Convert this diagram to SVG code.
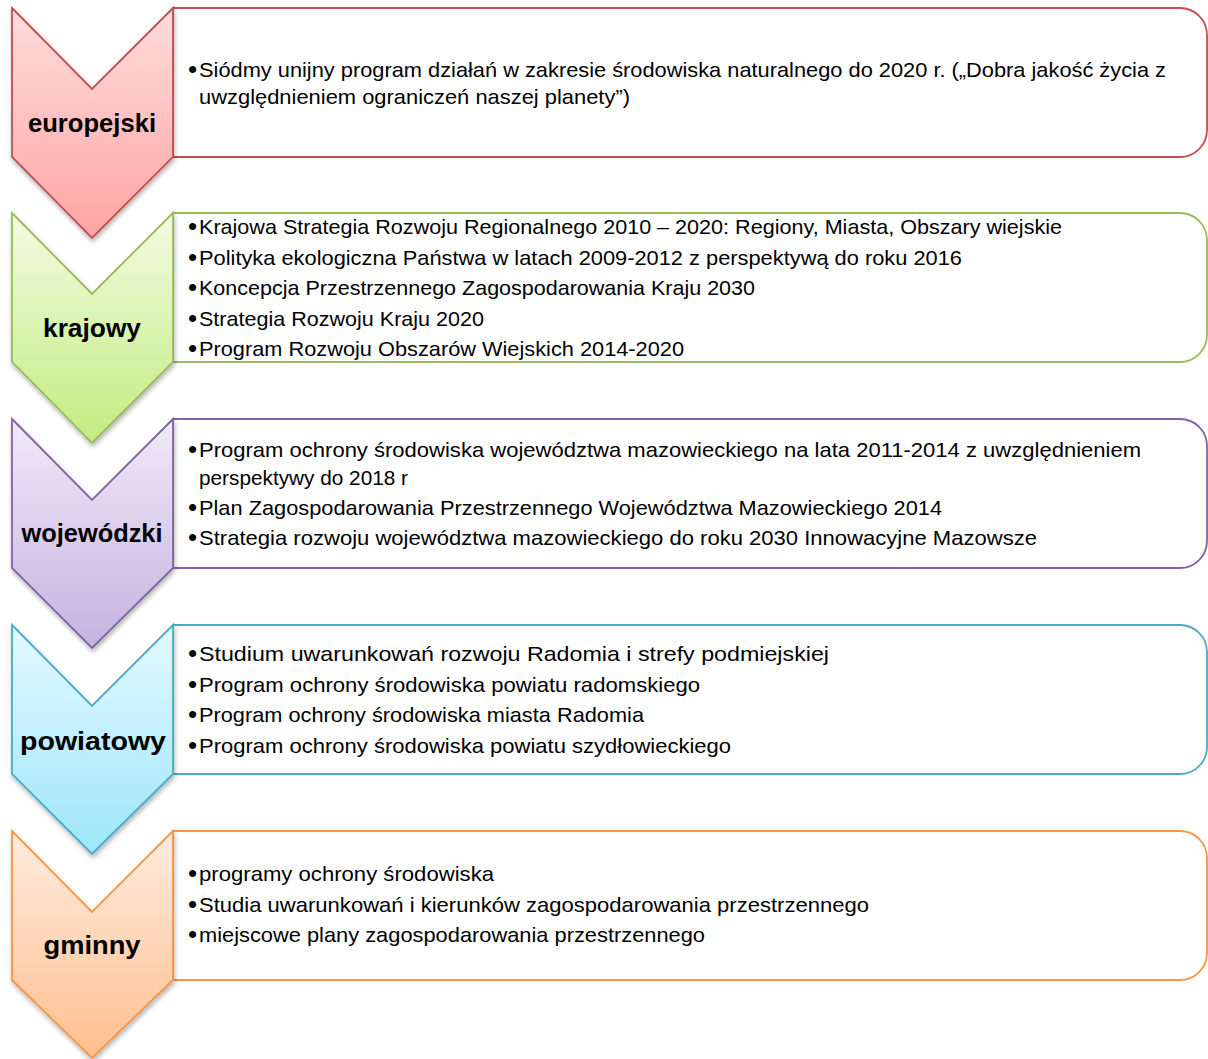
<svg xmlns="http://www.w3.org/2000/svg" width="1208" height="1059" viewBox="0 0 1208 1059">
<style>
.box{fill:#fff;stroke-width:1.8}
.chev{stroke-width:1.8;filter:url(#sh)}
.lbl{font-family:"Liberation Sans",Arial,sans-serif;font-weight:bold;font-size:25px;fill:#000;text-anchor:middle}
.t{font-family:"Liberation Sans",Arial,sans-serif;font-size:21px;fill:#000}
.b{font-family:"Liberation Sans",Arial,sans-serif;font-size:26px;fill:#000}
</style>
<defs>
<filter id="sh" x="-20%" y="-20%" width="150%" height="150%">
<feGaussianBlur in="SourceAlpha" stdDeviation="2.5"/>
<feOffset dx="1" dy="3" result="b"/>
<feComponentTransfer><feFuncA type="linear" slope="0.3"/></feComponentTransfer>
<feMerge><feMergeNode/><feMergeNode in="SourceGraphic"/></feMerge>
</filter>
<linearGradient id="gr" x1="0" y1="0" x2="0" y2="1"><stop offset="0" stop-color="#ffdcdc"/><stop offset="1" stop-color="#ffa4a4"/></linearGradient>
<linearGradient id="gg" x1="0" y1="0" x2="0" y2="1"><stop offset="0" stop-color="#f2fbe2"/><stop offset="1" stop-color="#c2ec80"/></linearGradient>
<linearGradient id="gp" x1="0" y1="0" x2="0" y2="1"><stop offset="0" stop-color="#f0eaf7"/><stop offset="1" stop-color="#c6b2e0"/></linearGradient>
<linearGradient id="gb" x1="0" y1="0" x2="0" y2="1"><stop offset="0" stop-color="#e4f9ff"/><stop offset="1" stop-color="#9de6fa"/></linearGradient>
<linearGradient id="go" x1="0" y1="0" x2="0" y2="1"><stop offset="0" stop-color="#ffecdf"/><stop offset="1" stop-color="#ffbf8e"/></linearGradient>
</defs>

<g id="level-europejski">
<path class="box" stroke="#c0504d" d="M173,8 H1180 A27,27 0 0 1 1207,35 V130 A27,27 0 0 1 1180,157 H173 Z"/>
<path class="chev" fill="url(#gr)" stroke="#c0504d" d="M12,8 L92,89 L173,8 L173,157 L92,238 L12,157 Z"/>
<text class="lbl" x="92" y="132" textLength="128" lengthAdjust="spacingAndGlyphs">europejski</text>
<text class="b" x="188" y="78">•</text>
<text class="t" x="199" y="77" textLength="967" lengthAdjust="spacingAndGlyphs">Siódmy unijny program działań w zakresie środowiska naturalnego do 2020 r. („Dobra jakość życia z</text>
<text class="t" x="199" y="104" textLength="431" lengthAdjust="spacingAndGlyphs">uwzględnieniem ograniczeń naszej planety”)</text>
</g>

<g id="level-krajowy">
<path class="box" stroke="#9bbb59" d="M173,213 H1180 A27,27 0 0 1 1207,240 V335 A27,27 0 0 1 1180,362 H173 Z"/>
<path class="chev" fill="url(#gg)" stroke="#9bbb59" d="M12,213 L92,294 L173,213 L173,362 L92,443 L12,362 Z"/>
<text class="lbl" x="92" y="337" textLength="98" lengthAdjust="spacingAndGlyphs">krajowy</text>
<text class="b" x="188" y="235">•</text>
<text class="t" x="199" y="234" textLength="863" lengthAdjust="spacingAndGlyphs">Krajowa Strategia Rozwoju Regionalnego 2010 – 2020: Regiony, Miasta, Obszary wiejskie</text>
<text class="b" x="188" y="266">•</text>
<text class="t" x="199" y="265" textLength="763" lengthAdjust="spacingAndGlyphs">Polityka ekologiczna Państwa w latach 2009-2012 z perspektywą do roku 2016</text>
<text class="b" x="188" y="296">•</text>
<text class="t" x="199" y="295" textLength="556" lengthAdjust="spacingAndGlyphs">Koncepcja Przestrzennego Zagospodarowania Kraju 2030</text>
<text class="b" x="188" y="327">•</text>
<text class="t" x="199" y="326" textLength="285" lengthAdjust="spacingAndGlyphs">Strategia Rozwoju Kraju 2020</text>
<text class="b" x="188" y="357">•</text>
<text class="t" x="199" y="356" textLength="485" lengthAdjust="spacingAndGlyphs">Program Rozwoju Obszarów Wiejskich 2014-2020</text>
</g>

<g id="level-wojewodzki">
<path class="box" stroke="#8064a2" d="M173,419 H1180 A27,27 0 0 1 1207,446 V541 A27,27 0 0 1 1180,568 H173 Z"/>
<path class="chev" fill="url(#gp)" stroke="#8064a2" d="M12,419 L92,500 L173,419 L173,568 L92,648 L12,568 Z"/>
<text class="lbl" x="92" y="542" textLength="141" lengthAdjust="spacingAndGlyphs">wojewódzki</text>
<text class="b" x="188" y="458">•</text>
<text class="t" x="199" y="457" textLength="942" lengthAdjust="spacingAndGlyphs">Program ochrony środowiska województwa mazowieckiego na lata 2011-2014 z uwzględnieniem</text>
<text class="t" x="199" y="485" textLength="209" lengthAdjust="spacingAndGlyphs">perspektywy do 2018 r</text>
<text class="b" x="188" y="516">•</text>
<text class="t" x="199" y="515" textLength="743" lengthAdjust="spacingAndGlyphs">Plan Zagospodarowania Przestrzennego Województwa Mazowieckiego 2014</text>
<text class="b" x="188" y="546">•</text>
<text class="t" x="199" y="545" textLength="838" lengthAdjust="spacingAndGlyphs">Strategia rozwoju województwa mazowieckiego do roku 2030 Innowacyjne Mazowsze</text>
</g>

<g id="level-powiatowy">
<path class="box" stroke="#4bacc6" d="M173,625 H1180 A27,27 0 0 1 1207,652 V747 A27,27 0 0 1 1180,774 H173 Z"/>
<path class="chev" fill="url(#gb)" stroke="#4bacc6" d="M12,625 L92,706 L173,625 L173,774 L92,854 L12,774 Z"/>
<text class="lbl" x="93" y="750" textLength="146" lengthAdjust="spacingAndGlyphs">powiatowy</text>
<text class="b" x="188" y="662">•</text>
<text class="t" x="199" y="661" textLength="630" lengthAdjust="spacingAndGlyphs">Studium uwarunkowań rozwoju Radomia i strefy podmiejskiej</text>
<text class="b" x="188" y="693">•</text>
<text class="t" x="199" y="692" textLength="501" lengthAdjust="spacingAndGlyphs">Program ochrony środowiska powiatu radomskiego</text>
<text class="b" x="188" y="723">•</text>
<text class="t" x="199" y="722" textLength="445" lengthAdjust="spacingAndGlyphs">Program ochrony środowiska miasta Radomia</text>
<text class="b" x="188" y="754">•</text>
<text class="t" x="199" y="753" textLength="532" lengthAdjust="spacingAndGlyphs">Program ochrony środowiska powiatu szydłowieckiego</text>
</g>

<g id="level-gminny">
<path class="box" stroke="#f79646" d="M173,831 H1180 A27,27 0 0 1 1207,858 V953 A27,27 0 0 1 1180,980 H173 Z"/>
<path class="chev" fill="url(#go)" stroke="#f79646" d="M12,831 L92,912 L173,831 L173,980 L92,1058 L12,980 Z"/>
<text class="lbl" x="92" y="954" textLength="97" lengthAdjust="spacingAndGlyphs">gminny</text>
<text class="b" x="188" y="882">•</text>
<text class="t" x="199" y="881" textLength="295" lengthAdjust="spacingAndGlyphs">programy ochrony środowiska</text>
<text class="b" x="188" y="913">•</text>
<text class="t" x="199" y="912" textLength="670" lengthAdjust="spacingAndGlyphs">Studia uwarunkowań i kierunków zagospodarowania przestrzennego</text>
<text class="b" x="188" y="943">•</text>
<text class="t" x="199" y="942" textLength="506" lengthAdjust="spacingAndGlyphs">miejscowe plany zagospodarowania przestrzennego</text>
</g>

<g id="connectors"></g>
</svg>
